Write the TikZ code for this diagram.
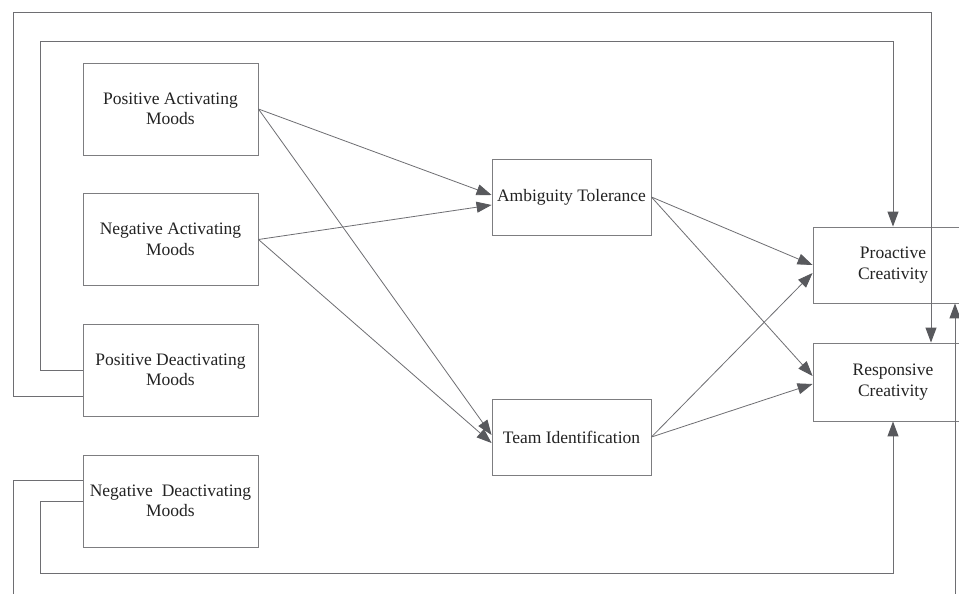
\documentclass[tikz,border=0pt]{standalone}
\usepackage{fontspec}
\setmainfont{Liberation Serif}
\usetikzlibrary{arrows.meta,calc}
\definecolor{linec}{RGB}{110,110,114}
\definecolor{tipc}{RGB}{88,89,93}
\definecolor{boxc}{RGB}{125,125,128}
\definecolor{textc}{RGB}{35,35,35}
\tikzset{
  box/.style={draw=boxc,line width=0.9pt,rectangle,align=center,inner sep=0pt,
    font=\fontsize{17.5}{20.5}\selectfont,text=textc},
  lbox/.style={box,minimum width=175pt,minimum height=92pt},
  mbox/.style={box,minimum width=159pt,minimum height=76pt},
  rbox/.style={box,minimum width=160pt},
  conn/.style={draw=linec,line width=0.8pt,-{Triangle[length=15pt,width=11pt,fill=tipc,color=tipc]}},
  fb/.style={draw=linec,line width=1pt,-{Triangle[length=15pt,width=11pt,fill=tipc,color=tipc]}}
}
\begin{document}
\begin{tikzpicture}[x=1pt,y=-1pt]
\clip (0,0) rectangle (959,594);
\fill[white] (0,0) rectangle (959,594);
\node[lbox] (pa) at (170.5,109) {Positive Activating\\Moods};
\node[lbox] (na) at (170.5,239.5) {Negative Activating\\Moods};
\node[lbox] (pd) at (170.5,370) {Positive Deactivating\\Moods};
\node[lbox] (nd) at (170.5,501) {Negative~ Deactivating\\Moods};
\node[mbox] (at) at (571.5,197) {Ambiguity Tolerance};
\node[mbox] (ti) at (571.5,437) {Team Identification};
\node[rbox,minimum height=76pt] (pc) at (893,265) {Proactive\\Creativity};
\node[rbox,minimum height=78pt] (rc) at (893,382) {Responsive\\Creativity};
% paths
\draw[conn] (pa.east) -- ($(at.west)+(0,-2)$);
\draw[conn] (na.east) -- ($(at.west)+(0,8)$);
\draw[conn] (pa.east) -- ($(ti.west)+(0,-2)$);
\draw[conn] (na.east) -- ($(ti.west)+(0,6)$);
\draw[conn] (at.east) -- (pc.west);
\draw[conn] (ti.east) -- ($(pc.west)+(0,8)$);
\draw[conn] (at.east) -- ($(rc.west)+(0,-6)$);
\draw[conn] (ti.east) -- ($(rc.west)+(0,2)$);
% feedback loops
\coordinate (c1) at (13,13);
\coordinate (c2) at (40,42);
\coordinate (c3) at (13,620);
\coordinate (c4) at (40,573);
\draw[fb] ($(pd.west)+(0,26)$) -| (c1) -| ($(rc.north)+(38,0)$);
\draw[fb] (pd.west) -| (c2) -| (pc.north);
\draw[fb] ($(nd.west)+(0,-21)$) -| (c3) -| ($(pc.south)+(62,0)$);
\draw[fb] (nd.west) -| (c4) -| (rc.south);
\end{tikzpicture}
\end{document}
